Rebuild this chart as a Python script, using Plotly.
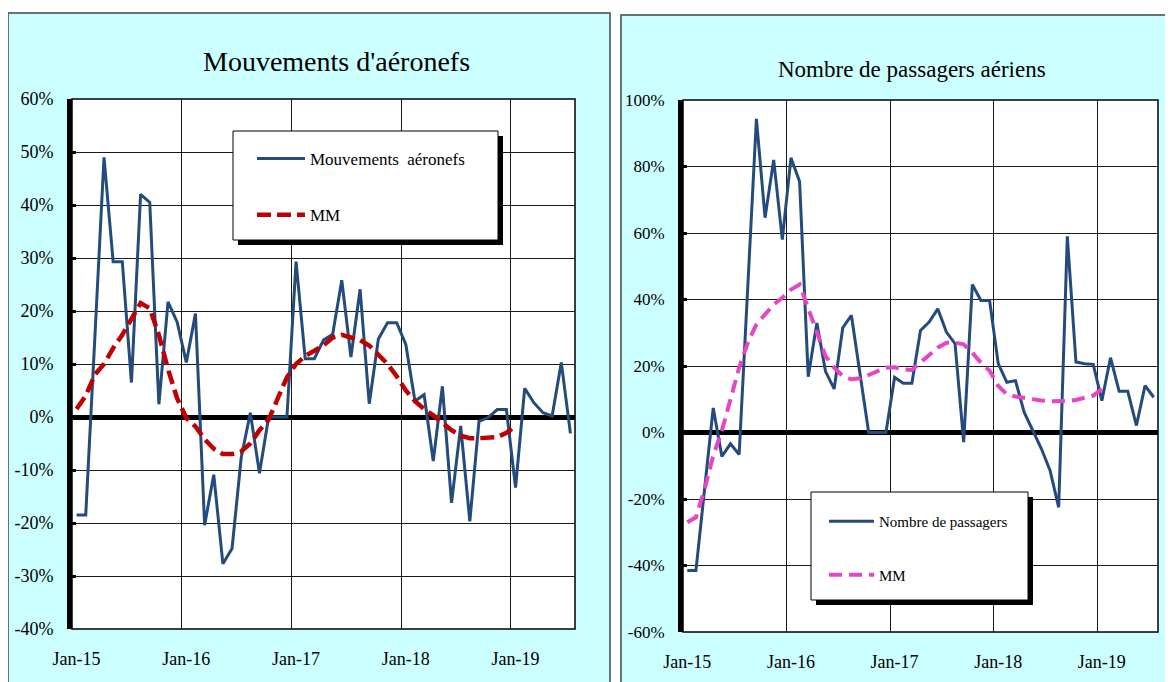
import pandas as pd
import plotly.graph_objects as go

# the page puts an 8px margin round the figure, so the figure covers the rest
OFF = 8
W, H = 1173 - OFF, 682 - OFF

# monthly categories, Jan-15 .. Jul-19
months = pd.date_range("2015-01-01", periods=55, freq="MS")
month_labels = [m.strftime("%b-%y") for m in months]
idx = list(range(len(months)))

# year-on-year change, %
mouvements = [-18.5, -18.5, 15, 49, 29.3, 29.3, 6.5, 42, 40.5, 2.4,
              21.7, 17.9, 10.3, 19.5, -20.4, -10.9, -27.7, -24.8, -7.7, 0.8,
              -10.6, 0, 0, 0, 29.3, 11, 11, 14.5, 15.6, 25.8,
              11.3, 24.1, 2.5, 14.7, 17.8, 17.8, 13.7, 3, 4.2, -8.3,
              5.8, -16.2, -1.7, -19.7, -0.8, -0.1, 1.4, 1.4, -13.3, 5.4,
              2.7, 0.8, 0.2, 10.3, -3.1]
mm_mouvements = [1.5, 4, 8, 10, 13, 15.5, 18.5, 21.5, 20.5, 15.5,
                 9, 3.5, -0.2, -1.8, -4.2, -6, -7, -7, -6.5, -5,
                 -2.5, -0.5, 3.5, 7.5, 10, 11.5, 12.5, 13.5, 15, 15.5,
                 15, 14.5, 13.5, 11.8, 10, 7.7, 5, 3, 1.5, 0.3,
                 -1, -2.5, -3.5, -4, -4, -4, -3.8, -3, -1.7]

passagers = [-41.5, -41.5, -17, 7.4, -7.2, -3.4, -6.6, 42, 94.3, 64.6,
             82, 58, 82.6, 75.5, 16.8, 32.9, 18.4, 13.1, 31.5, 35.2,
             17.6, 0, 0, 0, 16.6, 14.8, 14.8, 30.7, 33.2, 37.2,
             30.2, 26.7, -2.9, 44.5, 39.7, 39.7, 20.7, 15.1, 15.6, 6.1,
             0.6, -4.9, -11.4, -22.5, 59, 21.2, 20.7, 20.5, 9.6, 22.5,
             12.4, 12.4, 2.1, 14.1, 10.6]
mm_passagers = [-27, -25.5, -17, -7, 0.5, 9.5, 19.5, 27, 32.5, 35.5,
                38.5, 40.5, 43, 44.5, 37.5, 30, 23, 19.5, 17, 16,
                16.3, 17.3, 18.5, 19.5, 19.6, 19, 18.8, 21, 23.5, 25.5,
                27, 27, 26.5, 24, 21, 18.6, 14, 11.5, 10.8, 10.3,
                10, 9.6, 9.4, 9.4, 9.5, 9.8, 10.3, 11.1, 13.1]

left_yticks = list(range(-40, 61, 10))
right_yticks = list(range(-60, 101, 20))


def pad(vals):
    return vals + [None] * (len(idx) - len(vals))


year_ticks = [i for i, m in enumerate(months) if m.month == 1]
year_labels = [month_labels[i] for i in year_ticks]
year_bounds = [i - 0.5 for i in year_ticks[1:]]

BLUE = "#234B7C"
RED = "#C00000"
PINK = "#E645C3"
GRID = "#1a1a1a"
FONT = "Liberation Serif"


# window pixels -> paper fractions
def px(x):
    return (x - OFF) / W


def py(y):
    return 1 - (y - OFF) / H


# plot areas in window pixels (left, top, right, bottom)
L = (72, 99, 575, 629)
R = (683, 100, 1158, 632)

fig = go.Figure()
fig.add_trace(go.Scatter(x=idx, y=mouvements, mode="lines", name="Mouvements  aéronefs",
                         line=dict(color=BLUE, width=3), legend="legend", legendgroup="a",
                         xaxis="x", yaxis="y"))
fig.add_trace(go.Scatter(x=idx, y=pad(mm_mouvements), mode="lines", name="MM",
                         line=dict(color=RED, width=4.5, dash="14px,6px"), legend="legend",
                         legendgroup="b", xaxis="x", yaxis="y"))
fig.add_trace(go.Scatter(x=idx, y=passagers, mode="lines", name="Nombre de passagers",
                         line=dict(color=BLUE, width=3), legend="legend2", legendgroup="c",
                         xaxis="x2", yaxis="y2"))
fig.add_trace(go.Scatter(x=idx, y=pad(mm_passagers), mode="lines", name="MM",
                         line=dict(color=PINK, width=4, dash="13px,7px"), legend="legend2",
                         legendgroup="d", xaxis="x2", yaxis="y2"))


def xaxis_cfg(box, size):
    return dict(domain=[px(box[0]), px(box[2])], range=[-0.5, len(idx) - 0.5],
                automargin=False, tickmode="array", tickvals=year_ticks, ticktext=year_labels,
                showgrid=False, zeroline=False, showline=False, ticks="",
                ticklabelstandoff=17, tickfont=dict(family=FONT, size=size, color="black"),
                minor=dict(tickmode="array", tickvals=year_bounds, showgrid=True,
                           gridcolor=GRID, gridwidth=1, ticks=""))


def yaxis_cfg(box, ticks, size):
    return dict(domain=[py(box[3]), py(box[1])], range=[ticks[0], ticks[-1]],
                automargin=False, tickmode="array", tickvals=ticks,
                ticktext=[f"{v}%" for v in ticks], showgrid=True, gridcolor=GRID,
                gridwidth=1, zeroline=True, zerolinecolor="black", zerolinewidth=5,
                showline=True, linecolor="black", linewidth=5, ticks="inside",
                ticklen=4, tickwidth=3, tickcolor="black", ticklabelstandoff=10,
                tickfont=dict(family=FONT, size=size, color="black"))


shapes = []
# cyan panels
for x0, y0, x1 in [(8, 13, 610), (621, 15, 1190)]:
    shapes.append(dict(type="rect", xref="paper", yref="paper", layer="below",
                       x0=px(x0), x1=px(x1), y0=py(y0), y1=py(700),
                       fillcolor="#CCFFFF", line=dict(color="#3a4a4a", width=1.5)))
# white plot areas with thin border
for b in (L, R):
    shapes.append(dict(type="rect", xref="paper", yref="paper", layer="below",
                       x0=px(b[0]), x1=px(b[2]), y0=py(b[3]), y1=py(b[1]),
                       fillcolor="white", line=dict(color="black", width=1.5)))
# legend boxes with shadow
for x0, y0, x1, y1 in [(233, 131, 498, 240), (811, 492, 1028, 600)]:
    shapes.append(dict(type="rect", xref="paper", yref="paper", layer="above",
                       x0=px(x0 + 5), x1=px(x1 + 5), y0=py(y1 + 5), y1=py(y0 + 5),
                       fillcolor="black", line=dict(width=0)))
    shapes.append(dict(type="rect", xref="paper", yref="paper", layer="above",
                       x0=px(x0), x1=px(x1), y0=py(y1), y1=py(y0),
                       fillcolor="white", line=dict(color="black", width=1)))

annotations = [
    dict(text="Mouvements d'aéronefs", x=px(336), y=py(61), xref="paper", yref="paper",
         xanchor="center", yanchor="middle", showarrow=False,
         font=dict(family=FONT, size=28, color="black")),
    dict(text="Nombre de passagers aériens", x=px(912), y=py(70), xref="paper",
         yref="paper", xanchor="center", yanchor="middle", showarrow=False,
         font=dict(family=FONT, size=23, color="black")),
]

fig.update_layout(
    width=W, height=H, margin=dict(l=0, r=0, t=0, b=0, pad=0),
    paper_bgcolor="white", plot_bgcolor="rgba(0,0,0,0)",
    xaxis=dict(anchor="y", **xaxis_cfg(L, 18)),
    yaxis=dict(anchor="x", **yaxis_cfg(L, left_yticks, 18)),
    xaxis2=dict(anchor="y2", **xaxis_cfg(R, 18)),
    yaxis2=dict(anchor="x2", **yaxis_cfg(R, right_yticks, 17)),
    shapes=shapes, annotations=annotations,
    legend=dict(x=px(252), y=py(141), xanchor="left", yanchor="top",
                bgcolor="rgba(0,0,0,0)", borderwidth=0, tracegroupgap=31, itemwidth=48,
                font=dict(family=FONT, size=17, color="black")),
    legend2=dict(x=px(824), y=py(505), xanchor="left", yanchor="top",
                 bgcolor="rgba(0,0,0,0)", borderwidth=0, tracegroupgap=31, itemwidth=45,
                 font=dict(family=FONT, size=15, color="black")),
    showlegend=True,
)

fig.write_html("out.html")
